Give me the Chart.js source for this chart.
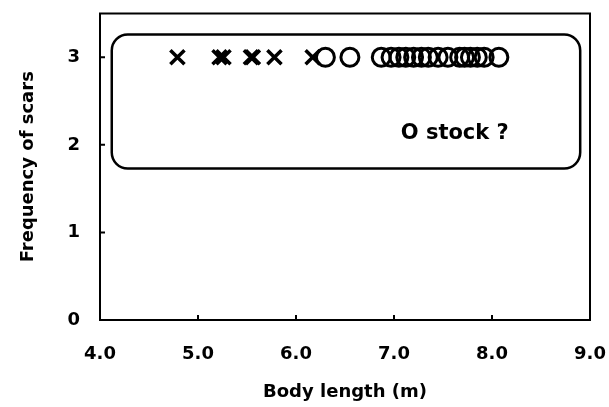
<!DOCTYPE html>
<html>
<head>
<meta charset="utf-8">
<script src="https://cdn.jsdelivr.net/npm/chart.js@4"></script>
<style>
	html, body { margin: 0; padding: 0; background: #fff; }
	#wrap { width: 609px; height: 407px; }
</style>
</head>
<body>
<div id="wrap"><canvas id="chart" width="609" height="407"></canvas></div>
<script>
// body length (m) of the whales drawn as X and as O, all at 3 scars
let crossLengths = [4.79, 5.22, 5.26, 5.54, 5.56, 5.78, 6.17];
let circleLengths = [6.30, 6.55, 6.87, 6.97, 7.05, 7.12, 7.2, 7.28, 7.35, 7.45, 7.55, 7.67, 7.72, 7.78, 7.85, 7.92, 8.07];
let crossScars = [3, 3, 3, 3, 3, 3, 3];
let circleScars = [3, 3, 3, 3, 3, 3, 3, 3, 3, 3, 3, 3, 3, 3, 3, 3, 3];
let xTicks = [4, 5, 6, 7, 8, 9];
let yTicks = [0, 1, 2, 3];

// rounded box around the group + its label (in data units)
let boxX = [4.12, 8.9];
let boxY = [1.73, 3.26];
let boxLabel = "O stock ?";
let boxLabelAt = [7.62, 2.13];

const FONT = "'DejaVu Sans', sans-serif";

function toPoints(xs, ys) {
	let pts = [];
	for (let i = 0; i < xs.length; i++) {
		pts.push({ x: xs[i], y: ys[i] });
	}
	return pts;
}

// frame, inner ticks, rounded box and label
const extras = {
	id: "extras",
	beforeDatasetsDraw(chart) {
		const ctx = chart.ctx;
		const a = chart.chartArea;
		const xs = chart.scales.x;
		const ys = chart.scales.y;
		ctx.save();
		ctx.strokeStyle = "#000";
		ctx.lineWidth = 2;
		ctx.strokeRect(a.left, a.top, a.right - a.left, a.bottom - a.top);

		ctx.beginPath();
		for (let i = 1; i < xTicks.length - 1; i++) {
			let px = xs.getPixelForValue(xTicks[i]);
			ctx.moveTo(px, a.bottom);
			ctx.lineTo(px, a.bottom - 5);
		}
		for (let i = 1; i < yTicks.length; i++) {
			let py = ys.getPixelForValue(yTicks[i]);
			ctx.moveTo(a.left, py);
			ctx.lineTo(a.left + 5, py);
		}
		ctx.stroke();

		let x1 = xs.getPixelForValue(boxX[0]);
		let x2 = xs.getPixelForValue(boxX[1]);
		let y1 = ys.getPixelForValue(boxY[1]);
		let y2 = ys.getPixelForValue(boxY[0]);
		ctx.lineWidth = 2.5;
		ctx.beginPath();
		ctx.roundRect(x1, y1, x2 - x1, y2 - y1, 16);
		ctx.stroke();

		ctx.fillStyle = "#000";
		ctx.font = "bold 21px " + FONT;
		ctx.textAlign = "center";
		ctx.textBaseline = "middle";
		ctx.fillText(boxLabel, xs.getPixelForValue(boxLabelAt[0]), ys.getPixelForValue(boxLabelAt[1]));
		ctx.restore();
	}
};

new Chart(document.getElementById("chart"), {
	type: "scatter",
	data: {
		datasets: [
			{
				label: "X",
				data: toPoints(crossLengths, crossScars),
				pointStyle: "crossRot",
				pointRadius: 10,
				borderColor: "#000",
				borderWidth: 3.5,
			},
			{
				label: "O",
				data: toPoints(circleLengths, circleScars),
				pointStyle: "circle",
				pointRadius: 9,
				borderColor: "#000",
				backgroundColor: "rgba(0,0,0,0)",
				borderWidth: 3,
			},
		],
	},
	options: {
		responsive: false,
		animation: false,
		events: [],
		layout: { padding: { left: 0, top: 12, right: 19, bottom: 0 } },
		plugins: {
			legend: { display: false },
			tooltip: { enabled: false },
		},
		scales: {
			x: {
				type: "linear",
				min: 4,
				max: 9,
				afterBuildTicks: (s) => { s.ticks = xTicks.map((v) => ({ value: v })); },
				afterFit: (s) => { s.height = 87; s.paddingLeft = 0; s.paddingRight = 0; },
				grid: { display: false },
				border: { display: false },
				ticks: {
					color: "#000",
					padding: 16,
					maxRotation: 0,
					font: { family: FONT, size: 18, weight: "bold" },
					callback: (v) => v.toFixed(1),
				},
				title: {
					display: true,
					text: "Body length (m)",
					color: "#000",
					padding: { top: 0, bottom: 4 },
					font: { family: FONT, size: 18, weight: "bold" },
				},
			},
			y: {
				min: 0,
				max: 3.5,
				afterBuildTicks: (s) => { s.ticks = yTicks.map((v) => ({ value: v })); },
				afterFit: (s) => { s.width = 100; s.paddingTop = 0; s.paddingBottom = 0; },
				grid: { display: false },
				border: { display: false },
				ticks: {
					color: "#000",
					padding: 12,
					font: { family: FONT, size: 18, weight: "bold" },
				},
				title: {
					display: true,
					text: "Frequency of scars",
					color: "#000",
					padding: { top: 18, bottom: 0 },
					font: { family: FONT, size: 18, weight: "bold" },
				},
			},
		},
	},
	plugins: [extras],
});
</script>
</body>
</html>
